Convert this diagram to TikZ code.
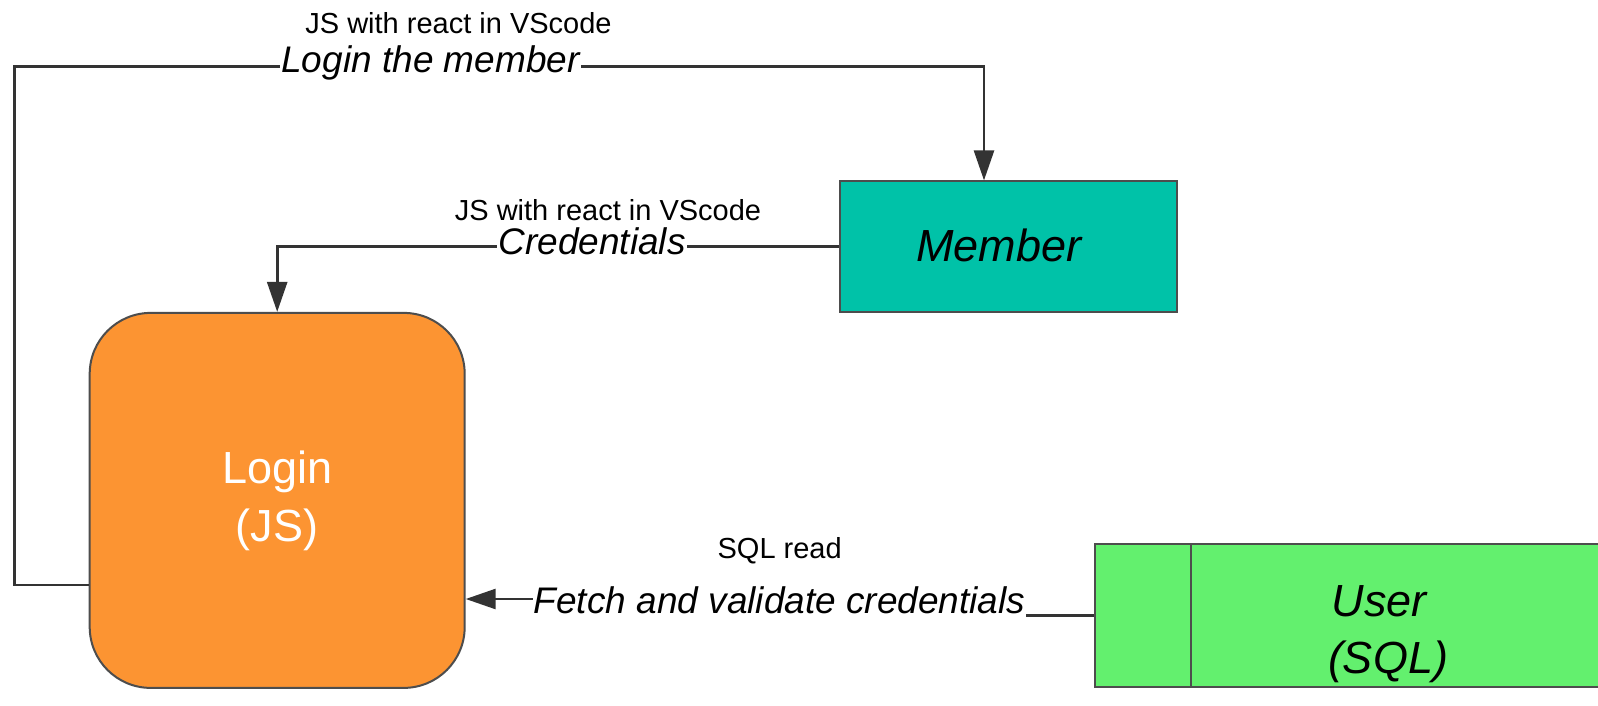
\documentclass[tikz,border=0pt]{standalone}
\usepackage{fontspec}
\setmainfont{Liberation Sans}
\usetikzlibrary{arrows.meta}
\definecolor{linec}{HTML}{333333}
\definecolor{borderc}{HTML}{4D4D4D}
\definecolor{tealc}{HTML}{00C2A8}
\definecolor{orangec}{HTML}{FC9432}
\definecolor{greenc}{HTML}{63F06E}
\tikzset{
  conn/.style={draw=linec, line width=2.6pt},
  arr/.style={conn, -{Triangle[length=30pt,width=20pt]}},
  boxst/.style={draw=borderc, line width=2pt, inner sep=0pt},
  smalllbl/.style={font=\fontsize{29}{34}\selectfont, anchor=base, inner sep=0pt},
  itlbl/.style={font=\fontsize{37}{44}\selectfont\itshape, anchor=base, fill=white, inner xsep=1pt, inner ysep=4pt},
}
\begin{document}
\begin{tikzpicture}[x=1pt,y=-1pt]
\useasboundingbox (0,0) rectangle (1598,706);
\clip (0,0) rectangle (1598,706);
\fill[white] (0,0) rectangle (1598,706);

% nodes
\node[boxst, fill=orangec, rounded corners=61pt, minimum width=375pt, minimum height=375pt,
  text=white, align=center, font=\fontsize{45}{58}\selectfont] (Login) at (277.2,500.4) {Login\\(JS)};
\node[boxst, fill=tealc, minimum width=337.3pt, minimum height=130.4pt] (Member) at (1008.4,246.6) {};
\node[font=\fontsize{45}{54}\selectfont\itshape] (MemberTxt) at (998.7,245) {Member};
\node[boxst, fill=greenc, minimum width=530pt, minimum height=143pt] (User) at (1359.5,615.5) {};
\draw[draw=borderc, line width=2pt] (1191.3,544) -- (1191.3,687);
\node[align=center, font=\fontsize{45}{57}\selectfont\itshape] (UserTxt) at (1379,634) {User\\\hspace*{0.4em}(SQL)};

% coordinates
\coordinate (c1) at (14.3,585);
\coordinate (c2) at (14.3,66.5);
\coordinate (c3) at (984,66.5);
\coordinate (j1) at (780,615.5);
\coordinate (j2) at (780,599);

% connectors
\draw[arr] (Login.west |- c1) -- (c1) -- (c2) -- (c3) -- (Member.north -| c3);
\draw[arr] (Member.west) -| (Login.north);
\draw[arr] (User.west) -- (j1) -- (j2) -- (Login.east |- j2);

% labels
\node[smalllbl] (l1a) at (458.5,33.3) {JS with react in VScode};
\node[itlbl] (l1b) at (430.5,72.5) {Login the member};
\node[smalllbl] (l2a) at (608,220.7) {JS with react in VScode};
\node[itlbl] (l2b) at (592,254) {Credentials};
\node[smalllbl] (l3a) at (779.7,558.3) {SQL read};
\node[itlbl] (l3b) at (779.5,613.3) {Fetch and validate credentials};
\end{tikzpicture}
\end{document}
